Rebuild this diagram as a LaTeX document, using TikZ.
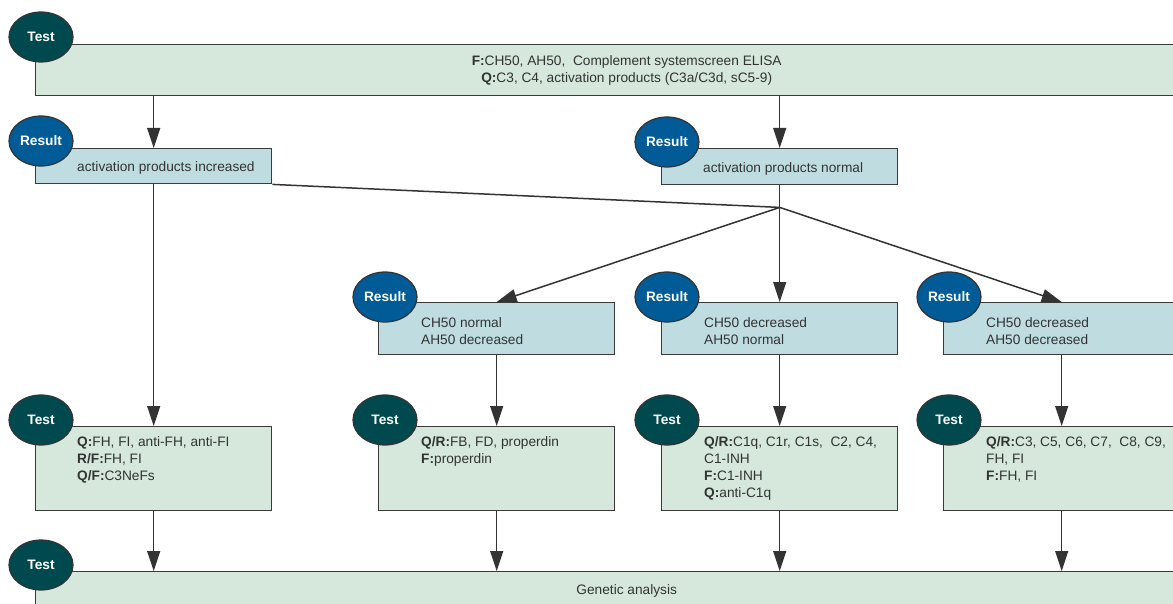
\documentclass[tikz,border=0pt]{standalone}
\usepackage{fontspec}
\setmainfont{Liberation Sans}
\usetikzlibrary{arrows.meta,shapes.geometric,positioning}
\definecolor{testgreen}{HTML}{D5E8DB}
\definecolor{resblue}{HTML}{BFDDE1}
\definecolor{testdark}{HTML}{004A4F}
\definecolor{resdark}{HTML}{005B96}
\definecolor{edge}{HTML}{3A3A3A}
\definecolor{ink}{HTML}{333333}
\tikzset{
  box/.style={draw=edge, line width=1.4pt, anchor=north west, inner sep=0pt,
    minimum width=236pt, text=ink, font=\fontsize{13.7}{17}\selectfont},
  testbox/.style={box, fill=testgreen, minimum height=84pt},
  resbox/.style={box, fill=resblue, minimum height=52pt},
  boxtext/.style={anchor=north west, align=left, inner sep=0pt, text=ink,
    font=\fontsize{13.7}{17}\selectfont},
  tag/.style={ellipse, draw=black!80, line width=1.2pt, minimum width=64pt,
    minimum height=50pt, inner sep=0pt, text=white,
    font=\fontsize{13.7}{16}\selectfont\bfseries},
  testtag/.style={tag, fill=testdark},
  restag/.style={tag, fill=resdark},
  link/.style={draw=ink, line width=1.5pt},
  arr/.style={link, -{Triangle[length=20pt,width=13pt]}}
}
\begin{document}
\begin{tikzpicture}[x=1pt, y=-1pt]
    \useasboundingbox (0,0) rectangle (1173,604);

    % Screening test
    \node[box, fill=testgreen, minimum width=1182pt, minimum height=51pt, align=center]
      (screen) at (35,44) {\textbf{F:}CH50, AH50,~ Complement systemscreen ELISA\\
      \textbf{Q:}C3, C4, activation products (C3a/C3d, sC5-9)};
    \node[testtag] (screentag) at ([shift={(6,-7)}]screen.north west) {Test};

    % First results
    \node[resbox, minimum height=35pt] (inc) at (35,148) {};
    \node[boxtext, anchor=west] (inctxt) at ([shift={(42,2)}]inc.west) {activation products increased};
    \node[restag] (inctag) at ([shift={(6,-7)}]inc.north west) {Result};

    \node[resbox, minimum height=36pt] (norm) at (661,148) {};
    \node[boxtext, anchor=west] (normtxt) at ([shift={(42,2)}]norm.west) {activation products normal};
    \node[restag] (normtag) at ([shift={(6,-6)}]norm.north west) {Result};

    % Second results
    \node[resbox] (alt) at (378,302) {};
    \node[boxtext, anchor=west] (alttxt) at ([shift={(43,2)}]alt.west) {CH50 normal\\AH50 decreased};
    \node[restag] (alttag) at ([shift={(7,-5)}]alt.north west) {Result};

    \node[resbox] (clas) at (661,302) {};
    \node[boxtext, anchor=west] (clastxt) at ([shift={(43,2)}]clas.west) {CH50 decreased\\AH50 normal};
    \node[restag] (clastag) at ([shift={(6,-5)}]clas.north west) {Result};

    \node[resbox] (both) at (943,302) {};
    \node[boxtext, anchor=west] (bothtxt) at ([shift={(43,2)}]both.west) {CH50 decreased\\AH50 decreased};
    \node[restag] (bothtag) at ([shift={(6,-5)}]both.north west) {Result};

    % Follow-up tests
    \node[testbox] (reg) at (35,426) {};
    \node[boxtext] (regtxt) at ([shift={(42,10)}]reg.north west)
      {\textbf{Q:}FH, FI, anti-FH, anti-FI\\\textbf{R/F:}FH, FI\\\textbf{Q/F:}C3NeFs};
    \node[testtag] (regtag) at ([shift={(6,-6)}]reg.north west) {Test};

    \node[testbox] (altest) at (378,426) {};
    \node[boxtext] (altesttxt) at ([shift={(43,10)}]altest.north west)
      {\textbf{Q/R:}FB, FD, properdin\\\textbf{F:}properdin};
    \node[testtag] (altesttag) at ([shift={(7,-6)}]altest.north west) {Test};

    \node[testbox] (clastest) at (661,426) {};
    \node[boxtext] (clastesttxt) at ([shift={(43,10)}]clastest.north west)
      {\textbf{Q/R:}C1q, C1r, C1s,~ C2, C4,\\C1-INH\\\textbf{F:}C1-INH\\\textbf{Q:}anti-C1q};
    \node[testtag] (clastesttag) at ([shift={(6,-6)}]clastest.north west) {Test};

    \node[testbox] (termtest) at (943,426) {};
    \node[boxtext] (termtesttxt) at ([shift={(43,10)}]termtest.north west)
      {\textbf{Q/R:}C3, C5, C6, C7,~ C8, C9,\\FH, FI\\\textbf{F:}FH, FI};
    \node[testtag] (termtesttag) at ([shift={(6,-6)}]termtest.north west) {Test};

    % Genetic analysis
    \node[box, fill=testgreen, minimum width=1182pt, minimum height=38pt]
      (gen) at (35,571) {Genetic analysis};
    \node[testtag] (gentag) at ([shift={(6,-6)}]gen.north west) {Test};

    % Connectors
    \coordinate (split) at ([shift={(0,22)}]norm.south);
    \draw[arr] (inc.north |- screen.south) -- (inc.north);
    \draw[arr] (norm.north |- screen.south) -- (norm.north);
    \draw[link] (inc.south east) -- (split);
    \draw[link] (norm.south) -- (split);
    \foreach \r in {alt, clas, both}
      \draw[arr] (split) -- (\r.north);
    \draw[arr] (inc.south) -- (reg.north);
    \draw[arr] (alt.south) -- (altest.north);
    \draw[arr] (clas.south) -- (clastest.north);
    \draw[arr] (both.south) -- (termtest.north);
    \foreach \t in {reg, altest, clastest, termtest}
      \draw[arr] (\t.south) -- (\t.south |- gen.north);
\end{tikzpicture}
\end{document}
